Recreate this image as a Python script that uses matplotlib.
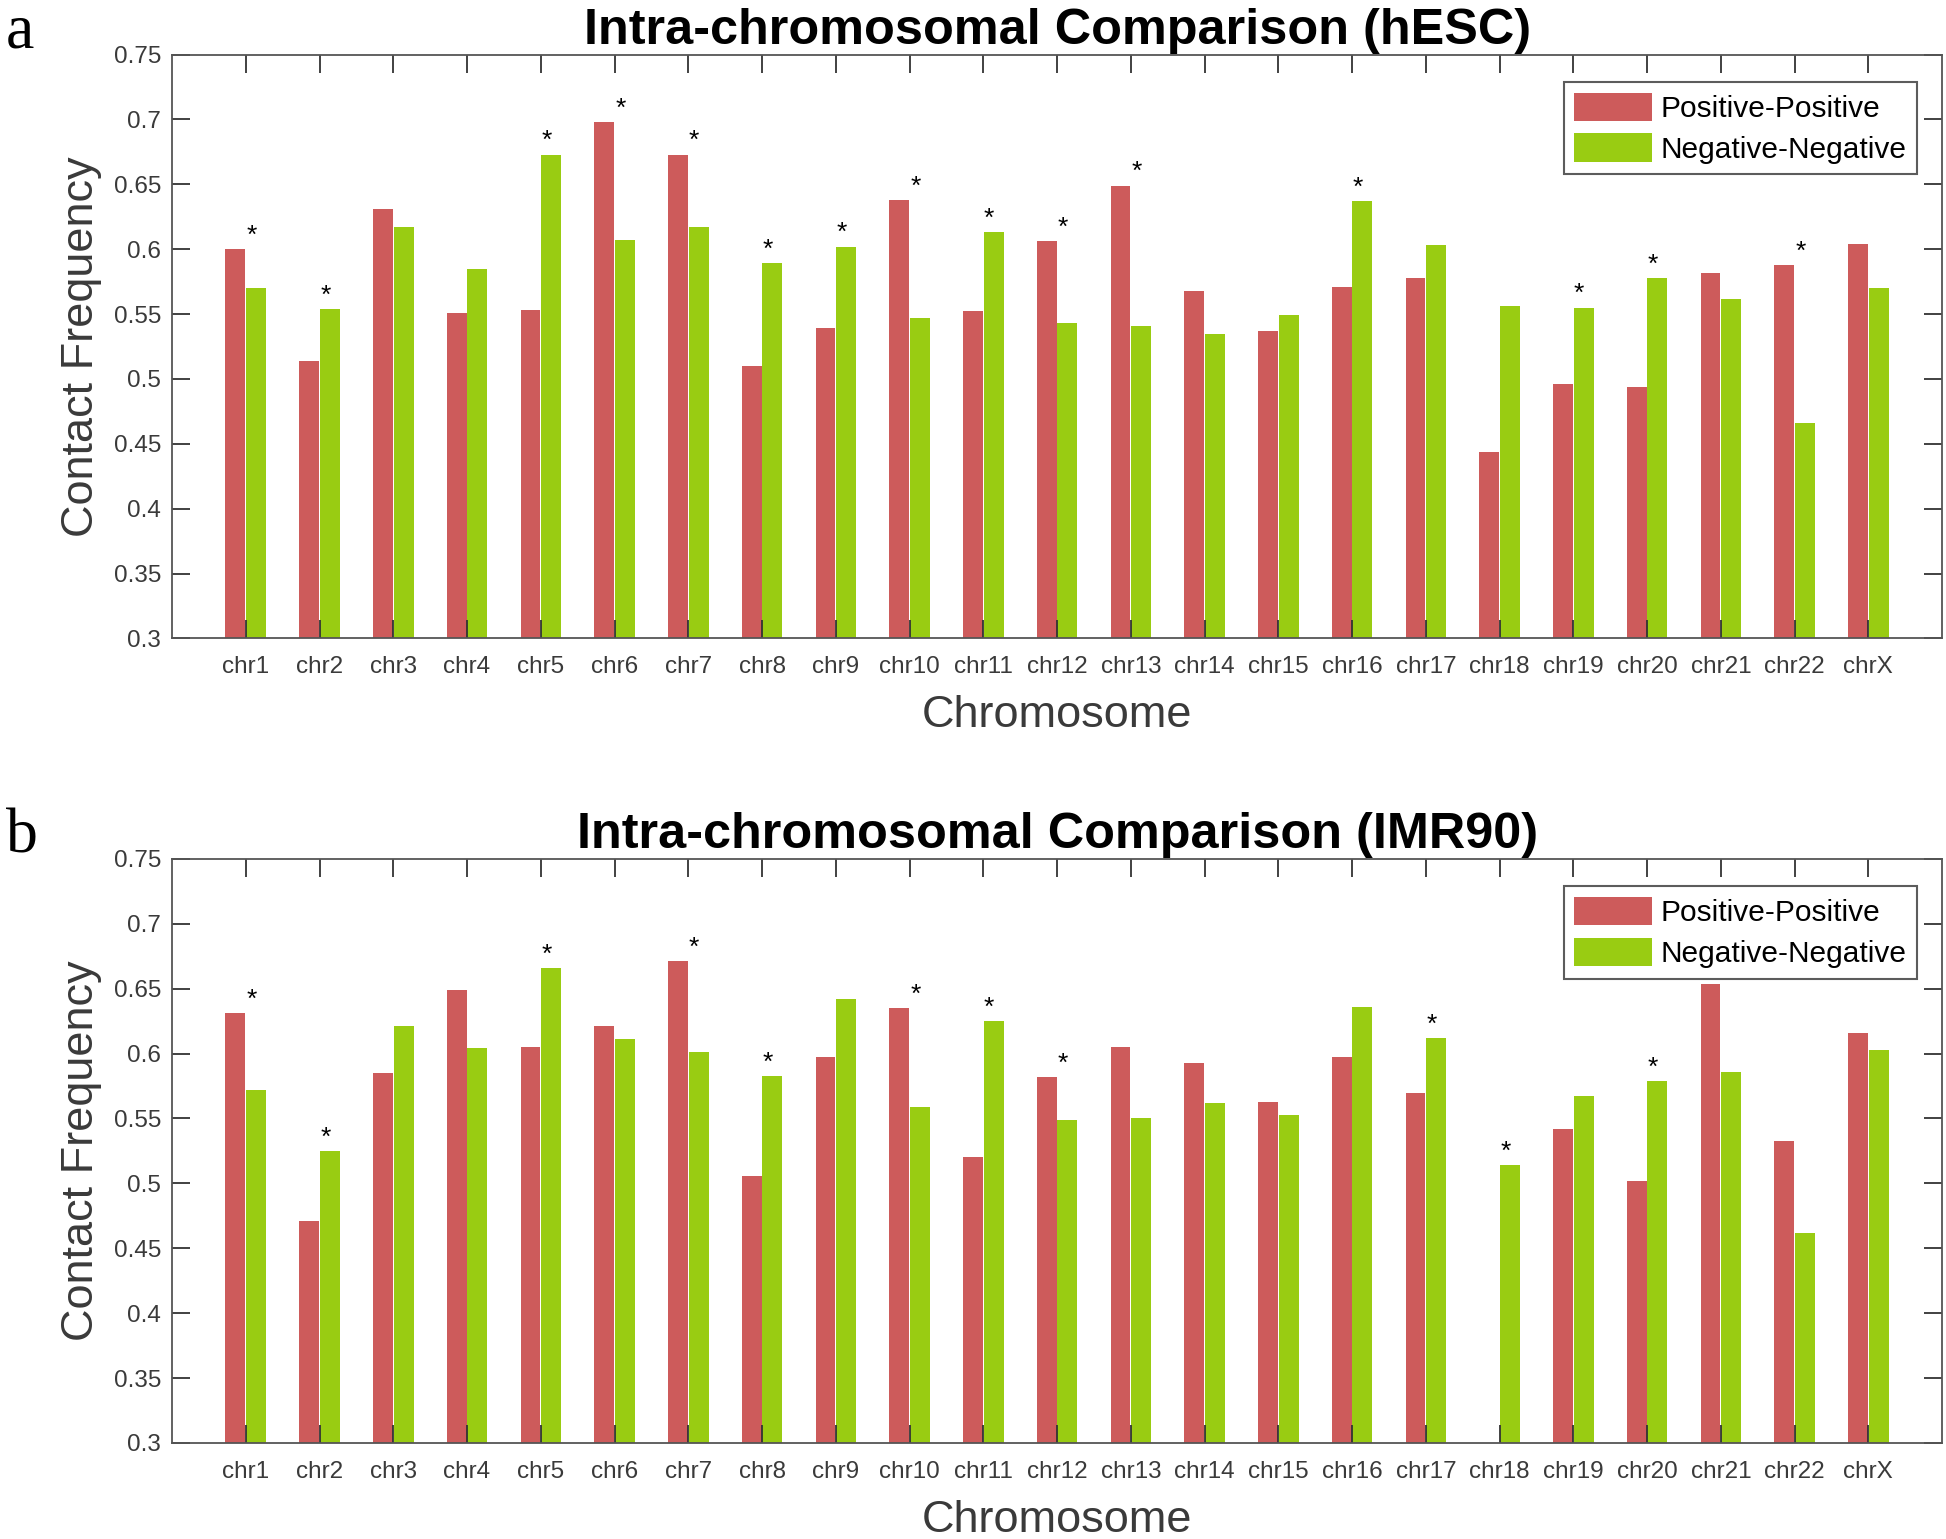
import matplotlib.pyplot as plt
import numpy as np

chroms = ['chr' + str(i) for i in range(1, 23)] + ['chrX']

# hESC
hesc_pos = [0.600, 0.514, 0.631, 0.551, 0.553, 0.698, 0.673, 0.510, 0.539, 0.638, 0.552, 0.606,
            0.649, 0.568, 0.537, 0.571, 0.578, 0.444, 0.496, 0.494, 0.582, 0.588, 0.604]
hesc_neg = [0.570, 0.554, 0.617, 0.585, 0.673, 0.607, 0.617, 0.589, 0.602, 0.547, 0.613, 0.543,
            0.541, 0.535, 0.549, 0.637, 0.603, 0.556, 0.555, 0.578, 0.562, 0.466, 0.570]
hesc_sig = ['chr1', 'chr2', 'chr5', 'chr6', 'chr7', 'chr8', 'chr9', 'chr10', 'chr11', 'chr12',
            'chr13', 'chr16', 'chr19', 'chr20', 'chr22']

# IMR90
imr_pos = [0.631, 0.471, 0.585, 0.649, 0.605, 0.621, 0.671, 0.506, 0.597, 0.635, 0.520, 0.582,
           0.605, 0.593, 0.563, 0.597, 0.570, 0.300, 0.542, 0.502, 0.654, 0.533, 0.616]
imr_neg = [0.572, 0.525, 0.621, 0.604, 0.666, 0.611, 0.601, 0.583, 0.642, 0.559, 0.625, 0.549,
           0.550, 0.562, 0.553, 0.636, 0.612, 0.514, 0.567, 0.579, 0.586, 0.462, 0.603]
imr_sig = ['chr1', 'chr2', 'chr5', 'chr7', 'chr8', 'chr10', 'chr11', 'chr12', 'chr17', 'chr18',
           'chr20']

yticks = [0.3, 0.35, 0.4, 0.45, 0.5, 0.55, 0.6, 0.65, 0.7, 0.75]
ytick_labels = ['0.3', '0.35', '0.4', '0.45', '0.5', '0.55', '0.6', '0.65', '0.7', '0.75']

RED = '#CD5B5B'
GREEN = '#99CC12'
AXC = '#555555'
TXT = '#3a3a3a'

plt.rcParams['font.family'] = ['Liberation Sans', 'DejaVu Sans']

fig = plt.figure(figsize=(19.46, 15.39), dpi=100)


def panel(rect, pos, neg, sig, title, letter):
    ax = fig.add_axes(rect)
    x = np.arange(1, len(chroms) + 1)
    w = 0.27
    ax.bar(x - 0.14, np.array(pos) - 0.3, w, bottom=0.3, color=RED, edgecolor='none',
           label='Positive-Positive', zorder=1)
    ax.bar(x + 0.14, np.array(neg) - 0.3, w, bottom=0.3, color=GREEN, edgecolor='none',
           label='Negative-Negative', zorder=1)

    # significance stars
    for i, c in enumerate(chroms):
        if c in sig:
            top = max(pos[i], neg[i])
            ax.text(x[i] + 0.08, top + 0.001, '*', ha='center', va='bottom',
                    fontsize=19, color='black')

    ax.set_xlim(0, 24)
    ax.set_ylim(0.3, 0.75)
    ax.set_xticks(x)
    ax.set_xticklabels(chroms)
    ax.set_yticks(yticks)
    ax.set_yticklabels(ytick_labels)
    ax.tick_params(direction='in', top=True, right=True, length=13, width=1.3,
                   color='#333333', labelsize=17.5, labelcolor=TXT)
    ax.tick_params(axis='x', pad=13)
    ax.tick_params(axis='y', pad=8)
    for s in ax.spines.values():
        s.set_color(AXC)
        s.set_linewidth(1.3)
        s.set_zorder(3)
    ax.set_axisbelow(False)

    ax.set_xlabel('Chromosome', fontsize=32.5, color=TXT, labelpad=12)
    ax.set_ylabel('Contact Frequency', fontsize=32.5, color=TXT, labelpad=8)
    ax.set_title(title, fontsize=36.3, fontweight='bold', color='black', pad=8)

    leg = ax.legend(loc='upper right', bbox_to_anchor=(0.986, 0.953), fontsize=21.5,
                    frameon=True, fancybox=False, handlelength=2.6, handleheight=1.1,
                    handletextpad=0.3, labelspacing=0.35, borderpad=0.35, borderaxespad=0)
    leg.get_frame().set_edgecolor('#333333')
    leg.get_frame().set_linewidth(1.5)
    for t in leg.get_texts():
        t.set_color('black')

    fig.text(0.003, rect[1] + rect[3] + 0.033, letter, fontsize=46,
             family='Liberation Serif', ha='left', va='top')
    return ax


panel([0.0884, 0.5852, 0.9096, 0.3793], hesc_pos, hesc_neg, hesc_sig,
      'Intra-chromosomal Comparison (hESC)', 'a')
panel([0.0884, 0.0624, 0.9096, 0.3795], imr_pos, imr_neg, imr_sig,
      'Intra-chromosomal Comparison (IMR90)', 'b')

fig.savefig('out.png', dpi=100, facecolor='white')
